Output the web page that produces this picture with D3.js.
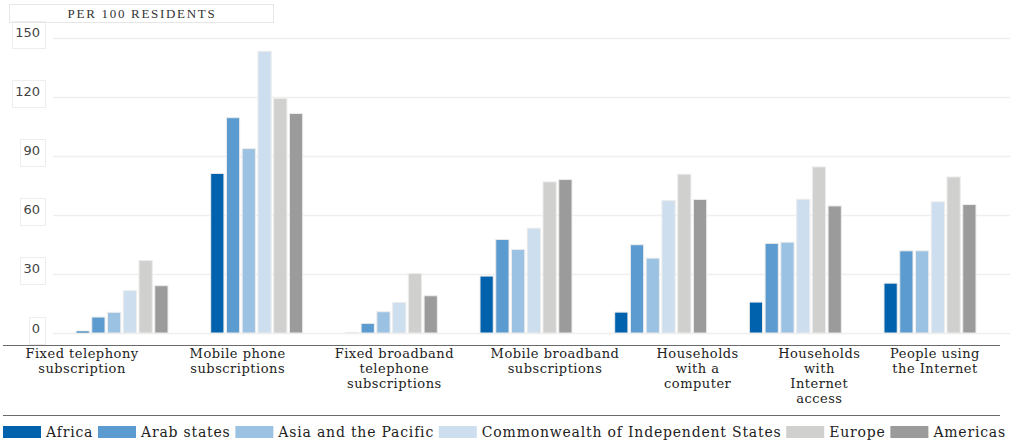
<!DOCTYPE html>
<html lang="en">

<head>
    <meta charset="UTF-8">
    <script src="https://d3js.org/d3.v7.min.js"></script>
    <title>Per 100 residents</title>
    <style>
        body {
            margin: 0;
            background: #fff;
        }
    </style>
</head>

<body>
    <div id="app"></div>
    <script>
        const svg_width = 1021;
        const svg_height = 444;

        // data
        var categories = [
            ['Fixed telephony', 'subscription'],
            ['Mobile phone', 'subscriptions'],
            ['Fixed broadband', 'telephone', 'subscriptions'],
            ['Mobile broadband', 'subscriptions'],
            ['Households', 'with a', 'computer'],
            ['Households', 'with', 'Internet', 'access'],
            ['People using', 'the Internet']
        ];
        var series = ['Africa', 'Arab states', 'Asia and the Pacific',
            'Commonwealth of Independent States', 'Europe', 'Americas'];
        var africa = [1.0, 81, 0.3, 28.9, 10.6, 15.7, 25.3];
        var arab_states = [8.1, 109.3, 4.9, 47.5, 44.8, 45.5, 41.7];
        var asia_pacific = [10.5, 93.6, 10.8, 42.4, 38, 46.1, 41.7];
        var cis = [21.5, 143, 15.5, 53.2, 67.2, 67.9, 66.6];
        var europe = [36.8, 119, 30.2, 76.7, 80.6, 84.3, 79.2];
        var americas = [24, 111.4, 18.9, 77.9, 67.8, 64.5, 65.2];
        var y_ticks = [0, 30, 60, 90, 120, 150];

        var values = [africa, arab_states, asia_pacific, cis, europe, americas];
        var colors = ['#0062ad', '#5b9bd0', '#9cc2e3', '#cddfee', '#d0d0cf', '#9b9b9b'];
        // the category labels sit a little off the group centres in the original
        var label_shift = [-40, -19, 3, 29, 37, 24, 5];

        var svg = d3.select('#app')
            .append('svg')
            .attr('width', svg_width)
            .attr('height', svg_height)
            .style('font-family', "'DejaVu Serif', serif");

        var x0 = d3.scaleBand()
            .domain(d3.range(categories.length))
            .range([53, 999])
            .paddingInner(0.317)
            .paddingOuter(0.171);

        var x1 = d3.scaleBand()
            .domain(d3.range(series.length))
            .range([0, x0.bandwidth()])
            .paddingInner(0.16);

        var y_scale = d3.scaleLinear().domain([0, 150]).range([333, 37.5]);

        // title box
        svg.append('rect')
            .attr('x', 9.5).attr('y', 4.5)
            .attr('width', 264).attr('height', 18)
            .attr('fill', 'none')
            .attr('stroke', '#e6e6e6');
        svg.append('text')
            .attr('x', 142).attr('y', 17.5)
            .attr('text-anchor', 'middle')
            .style('font-family', "'Liberation Serif', serif")
            .style('font-size', '13px')
            .style('letter-spacing', '1.7px')
            .attr('fill', '#333')
            .text('PER 100 RESIDENTS');

        // grid lines
        svg.append('g')
            .selectAll('line')
            .data(y_ticks)
            .enter()
            .append('line')
            .attr('x1', 53)
            .attr('x2', 1010)
            .attr('y1', function (d) { return Math.round(y_scale(d)) + 0.5; })
            .attr('y2', function (d) { return Math.round(y_scale(d)) + 0.5; })
            .attr('stroke', '#efefef')
            .attr('stroke-width', 1.5);

        // y tick labels, each in a faint box
        var ticks = svg.append('g')
            .selectAll('g')
            .data(y_ticks)
            .enter()
            .append('g');
        ticks.append('text')
            .attr('x', 40)
            .attr('y', function (d) { return y_scale(d) - 0.5; })
            .attr('text-anchor', 'end')
            .style('font-family', "'DejaVu Sans', sans-serif")
            .style('font-size', '13px')
            .attr('fill', '#444')
            .text(function (d) { return d; });
        ticks.each(function () {
            var g = d3.select(this);
            var b = g.select('text').node().getBBox();
            g.insert('rect', 'text')
                .attr('x', Math.round(b.x - 3) + 0.5)
                .attr('y', Math.round(b.y - 4) + 0.5)
                .attr('width', Math.round(b.width + 8))
                .attr('height', Math.round(b.height + 12))
                .attr('fill', 'none')
                .attr('stroke', '#eeeeee');
        });

        // bars
        var groups = svg.append('g')
            .selectAll('g')
            .data(categories)
            .enter()
            .append('g')
            .attr('transform', function (d, i) { return 'translate(' + x0(i) + ',0)'; });

        groups.selectAll('rect')
            .data(function (d, i) {
                return values.map(function (v, s) { return { s: s, v: v[i] }; });
            })
            .enter()
            .append('rect')
            .attr('x', function (d) { return x1(d.s); })
            .attr('width', x1.bandwidth())
            .attr('y', function (d) { return y_scale(d.v); })
            .attr('height', function (d) { return y_scale(0) - y_scale(d.v); })
            .attr('fill', function (d) { return colors[d.s]; })
            .attr('stroke', '#ececec')
            .attr('stroke-width', 1);

        // rules above and below the category labels
        svg.append('line')
            .attr('x1', 3).attr('x2', 1000)
            .attr('y1', 345.5).attr('y2', 345.5)
            .attr('stroke', '#6a6a6a');
        svg.append('line')
            .attr('x1', 3).attr('x2', 1000)
            .attr('y1', 415.5).attr('y2', 415.5)
            .attr('stroke', '#6a6a6a');

        // category labels
        var labels = svg.append('g')
            .selectAll('text')
            .data(categories)
            .enter()
            .append('text')
            .attr('text-anchor', 'middle')
            .style('font-size', '13px')
            .style('letter-spacing', '0.5px')
            .attr('fill', '#222')
            .attr('transform', function (d, i) {
                return 'translate(' + (x0(i) + x0.bandwidth() / 2 + label_shift[i]) + ',358)';
            });
        labels.selectAll('tspan')
            .data(function (d) { return d; })
            .enter()
            .append('tspan')
            .attr('x', 0)
            .attr('y', function (d, i) { return i * 15; })
            .text(function (d) { return d; });

        // legend: swatch + name, spread over the width
        var legend = svg.append('g');
        var items = legend.selectAll('g')
            .data(series)
            .enter()
            .append('g');
        items.append('rect')
            .attr('y', 426)
            .attr('width', 38)
            .attr('height', 12)
            .attr('fill', function (d, i) { return colors[i]; });
        items.append('text')
            .attr('x', 43)
            .attr('y', 437)
            .style('font-size', '14px')
            .style('letter-spacing', '0.8px')
            .attr('fill', '#222')
            .text(function (d) { return d; });

        var widths = [];
        items.each(function () {
            widths.push(43 + d3.select(this).select('text').node().getComputedTextLength());
        });
        var gap = Math.max(0, (1006 - 3 - d3.sum(widths)) / (series.length - 1));
        var pos = 3;
        items.attr('transform', function (d, i) {
            var t = 'translate(' + pos + ',0)';
            pos += widths[i] + gap;
            return t;
        });
    </script>
</body>

</html>
